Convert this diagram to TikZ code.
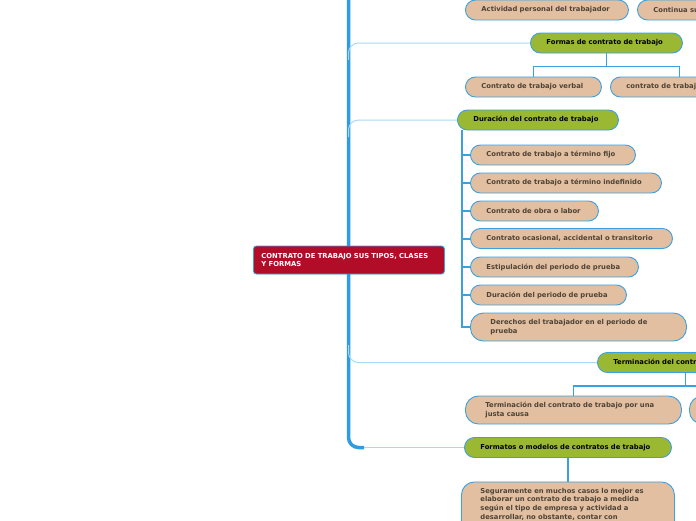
\documentclass[tikz,border=0pt]{standalone}
\usepackage{fontspec}
\setmainfont{DejaVu Sans}
\definecolor{tanfill}{HTML}{E1BFA0}
\definecolor{tantext}{HTML}{4F4337}
\definecolor{greenfill}{HTML}{9BB832}
\definecolor{nodeblue}{HTML}{3AA0E2}
\definecolor{trunkblue}{HTML}{2E9BE2}
\definecolor{branchblue}{HTML}{A9D8F4}
\definecolor{crimson}{HTML}{B20D28}
\begin{document}
\begin{tikzpicture}[x=1pt,y=-1pt,
  font=\bfseries\fontsize{6.8}{8.7}\selectfont,
  base/.style={draw=nodeblue, line width=0.9pt, rounded corners=10pt, minimum height=20pt,
    inner xsep=16pt, inner ysep=0pt, align=left, anchor=west},
  tanbox/.style={base, fill=tanfill, text=tantext},
  tantwo/.style={tanbox, minimum height=28pt, rounded corners=13pt, inner xsep=20pt},
  greenbox/.style={base, fill=greenfill, text=black},
  trunk/.style={draw=trunkblue, line width=3.5pt, rounded corners=10pt},
  branch/.style={draw=branchblue, line width=1pt, rounded corners=10pt},
  conn/.style={draw=nodeblue, line width=1.6pt},
  stub/.style={draw=nodeblue, line width=2pt}]
\useasboundingbox (0,0) rectangle (696,520);

% trunk and branches (drawn first)
\coordinate (ttop) at (348.5,-10);
\coordinate (tend) at (364,447.5);
\coordinate (b1) at (348.5,60);
\coordinate (b2) at (348.5,137);
\coordinate (b3) at (348.5,345);
\draw[trunk] (ttop) |- (tend);

% top row (partially visible)
\node[tanbox, text width=131pt] (act) at (465,10) {Actividad personal del trabajador};
\node[tanbox, text width=190pt] (cont) at (637,10) {Continua subordinación o dependencia};

% Formas
\node[greenbox, text width=120pt] (formas) at (530,43) {Formas de contrato de trabajo};
\node[tanbox, text width=104pt] (verbal) at (465,87) {Contrato de trabajo verbal};
\node[tanbox, text width=106pt] (escrito) at (610,87) {contrato de trabajo escrito};

% Duración
\node[greenbox, text width=129pt] (dur) at (457,120) {Duración del contrato de trabajo};
\node[tanbox, text width=133pt] (c1) at (470,155) {Contrato de trabajo a término fijo};
\node[tanbox, text width=159pt] (c2) at (470,183) {Contrato de trabajo a término indefinido};
\node[tanbox, text width=96pt] (c3) at (470,211) {Contrato de obra o labor};
\node[tanbox, text width=170pt] (c4) at (470,238.5) {Contrato ocasional, accidental o transitorio};
\node[tanbox, text width=136pt] (c5) at (470,267) {Estipulación del periodo de prueba};
\node[tanbox, text width=124pt] (c6) at (470,295) {Duración del periodo de prueba};
\node[tantwo, text width=176pt] (c7) at (470,327) {Derechos del trabajador en el periodo de\\prueba};

% Terminación
\node[greenbox, text width=144pt] (term) at (597,362.5) {Terminación del contrato de trabajo};
\node[tantwo, text width=176pt] (justa) at (465,410) {Terminación del contrato de trabajo por una\\justa causa};
\node[tantwo, text width=176pt] (sin) at (689,410) {Terminación del contrato de trabajo sin\\justa causa};

% Formatos
\node[greenbox, text width=175pt] (formatos) at (464,447.5) {Formatos o modelos de contratos de trabajo};
\node[tanbox, anchor=north west, rounded corners=13pt, inner xsep=19pt, inner ysep=6pt,
  text width=175pt] (texto) at (461,481.5)
  {Seguramente en muchos casos lo mejor es\\elaborar un contrato de trabajo a medida\\según el tipo de empresa y actividad a\\desarrollar, no obstante, contar con\par\vspace*{30pt}};

% central node
\node[draw=nodeblue, line width=0.9pt, fill=crimson, text=white, rounded corners=3pt,
  minimum height=28pt, inner xsep=8pt, inner ysep=0pt, align=left, anchor=west,
  text width=175pt] (main) at (253,260) {CONTRATO DE TRABAJO SUS TIPOS, CLASES\\Y FORMAS};

% branches from trunk
\draw[branch] (b1) |- (formas.west);
\draw[branch] (b2) |- (dur.west);
\draw[branch] (b3) |- (term.west);
\draw[branch] (tend) -- (formatos.west);

% child connectors
\draw[conn] (formas.south) -- ++(0,13) -| (verbal.north);
\draw[conn] (formas.south) -- ++(0,13) -| (escrito.north);
\foreach \c in {c1,c2,c3,c4,c5,c6,c7}
  \draw[stub] ([xshift=4.5pt]dur.south west) |- (\c.west);
\draw[conn] (term.south) -- ++(0,13) -| (justa.north);
\draw[conn] (term.south) -- ++(0,13) -| (sin.north);
\draw[conn] (formatos.south) -- (texto.north);
\end{tikzpicture}
\end{document}
